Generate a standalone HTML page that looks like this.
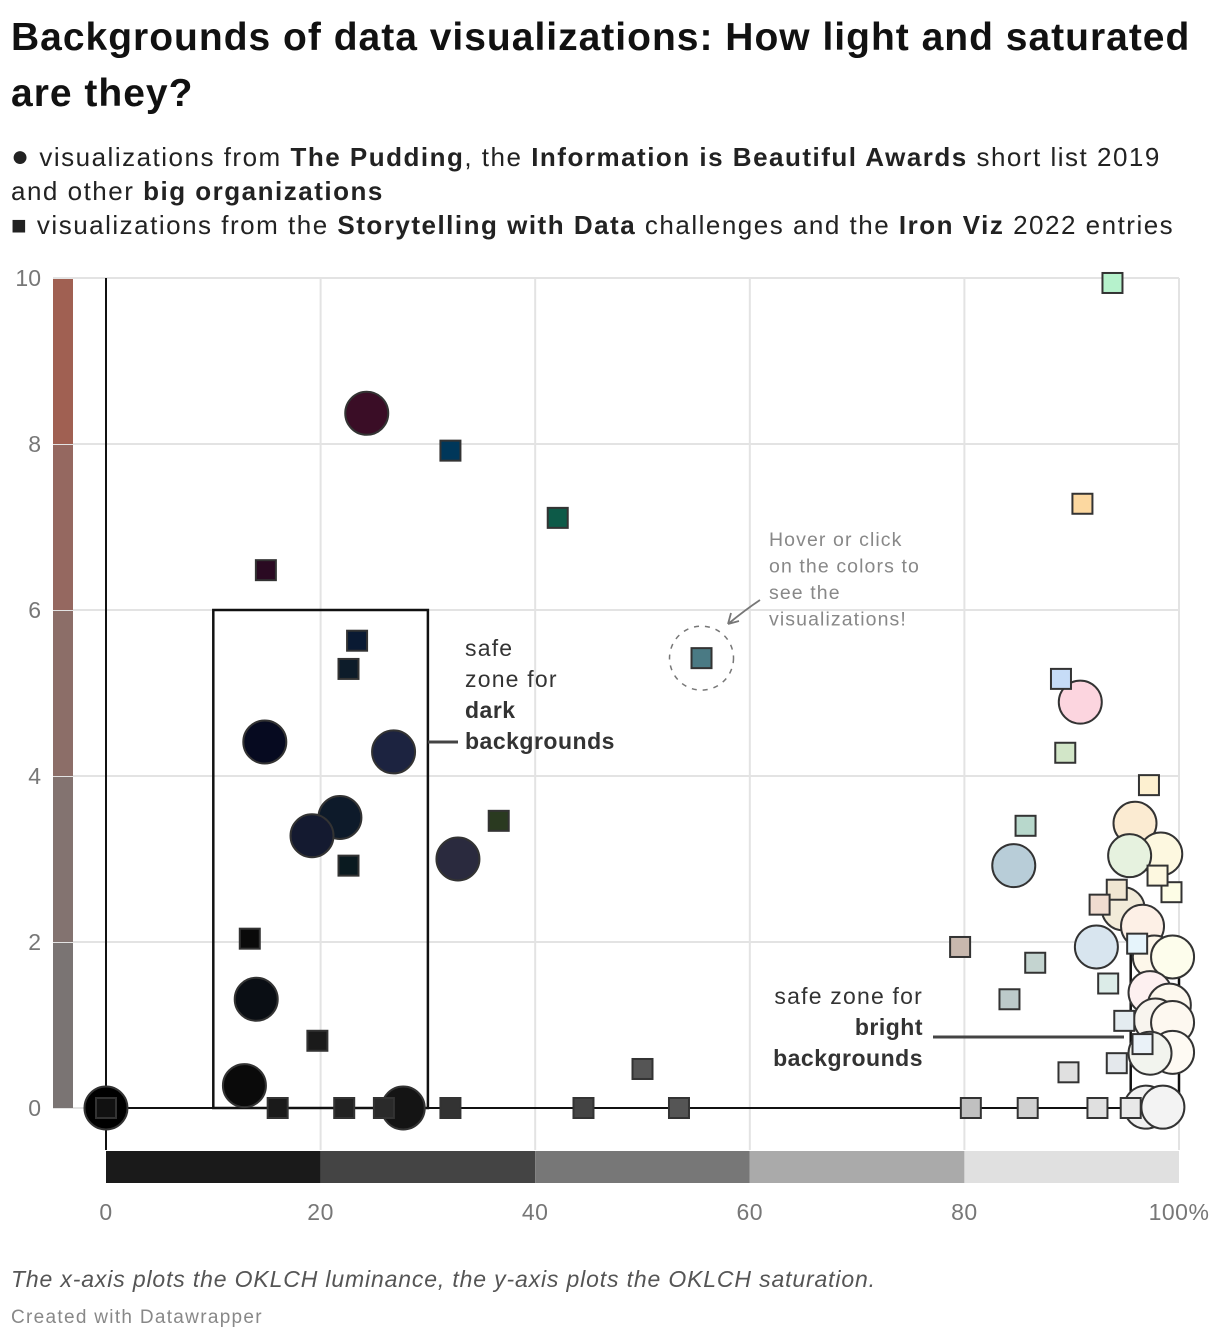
<!DOCTYPE html>
<html><head><meta charset="utf-8">
<style>
body{margin:0;background:#fff;font-family:"Liberation Sans",sans-serif;color:#1d1d1d;width:1220px;height:1342px;overflow:hidden;position:relative}
.t{position:absolute;left:11px;white-space:nowrap}
h1{position:absolute;left:11px;top:10px;margin:0;font-size:39px;line-height:56px;font-weight:bold;width:1195px;color:#111;letter-spacing:1px}
.sub{position:absolute;left:11px;top:140px;font-size:26px;line-height:34px;color:#222;letter-spacing:1.5px;white-space:nowrap}
svg{position:absolute;left:0;top:0}
</style></head><body>
<h1>Backgrounds of data visualizations: How light and saturated are they?</h1>
<div class="sub"><span style="font-size:30px">●</span> visualizations from <b>The Pudding</b>, the <b>Information is Beautiful Awards</b> short list 2019<br>and other <b>big organizations</b><br>■ visualizations from the <b>Storytelling with Data</b> challenges and the <b>Iron Viz</b> 2022 entries</div>
<svg id="c" width="1220" height="1342"></svg>
<div class="t" style="top:1266px;font-size:23px;font-style:italic;color:#555;letter-spacing:0.85px">The x-axis plots the OKLCH luminance, the y-axis plots the OKLCH saturation.</div>
<div class="t" style="top:1307px;font-size:19px;color:#888;letter-spacing:1.3px">Created with Datawrapper</div>
<script>
const xTicks=[0,20,40,60,80,100];
const yTicks=[0,2,4,6,8,10];
const circX=[24.3,14.8,26.8,21.8,19.2,32.8,14.0,12.9,0,27.7,90.8,84.6,95.9,98.3,95.4,94.8,96.6,92.3,97.7,99.4,97.3,99.1,97.8,99.4,99.4,97.3,96.9,98.5];
const circY=[8.37,4.41,4.29,3.5,3.28,3.0,1.31,0.27,0,0,4.89,2.92,3.43,3.06,3.04,2.4,2.19,1.94,1.82,1.82,1.39,1.24,1.06,1.03,0.67,0.66,0.01,0.01];
const circC=["#3a0d26","#060a20","#1c2340","#0d1a2a","#141a30","#2a2a3e","#0a0e14","#0a0a0a","#000000","#141414","#fcd5df","#b8cdd8","#fbebd2","#fdf8e0","#e6f2df","#f2ebd9","#fdf0e6","#d8e5ef","#fdf7ea","#fdfdec","#fdf0f0","#fdf8ee","#f8f4ee","#fdf8f0","#fefaf3","#f2f4ee","#f0f0f0","#f3f3f3"];
const sqX=[32.1,42.1,14.9,23.4,22.6,55.5,36.6,22.6,13.4,19.7,50.0,0,16.0,22.2,25.9,32.1,44.5,53.4,93.8,91.0,89.0,89.4,97.2,85.7,79.6,86.6,84.2,93.4,89.7,80.6,85.9,92.4,95.5,94.2,99.3,92.6,98.0,96.1,94.9,96.6,94.2];
const sqY=[7.92,7.11,6.48,5.63,5.29,5.42,3.46,2.92,2.04,0.81,0.47,0,0,0,0,0,0,0,9.94,7.28,5.17,4.28,3.89,3.40,1.94,1.75,1.31,1.50,0.43,0,0,0,0,2.63,2.60,2.45,2.80,1.98,1.05,0.77,0.54];
const sqC=["#00375a","#0d5a48","#2a0a22","#0a1a33","#0d1c2a","#4a7a84","#2a3a20","#0a1a20","#0a0a0a","#1a1a1a","#555555","#111111","#1a1a1a","#222222","#2a2a2a","#333333","#444444","#555555","#b6f2cc","#fcd8a0","#c6dcf7","#d2e6c8","#fdf0d0","#b8d8cc","#c8b8ae","#c4d4d0","#bccaca","#dcece8","#e0e0e0","#c0c0c0","#d0d0d0","#e0e0e0","#e8e8e8","#f0e6d2","#fdfde6","#f0dcd0","#fdf8e0","#e6f4fb","#e4ecf0","#eaf2f8","#e4e8ec"];
const ySegC=["#7a7473","#837370","#8c6e68","#956860","#a06052"];
const xSegC=["#1a1a1a","#444444","#777777","#aaaaaa","#e0e0e0"];
const X=v=>106+v*10.73, Y=v=>1108-v*83;
const s=document.getElementById('c'),NS="http://www.w3.org/2000/svg";
function E(t,a,p){const e=document.createElementNS(NS,t);for(const k in a)e.setAttribute(k,a[k]);(p||s).appendChild(e);return e;}
xTicks.forEach((t,i)=>{const g=E('line',{x1:X(t),x2:X(t),y1:278,y2:1150,stroke:'#e3e3e3','stroke-width':2});

const l=E('text',{x:X(t),y:1220,'text-anchor':'middle','font-size':23,fill:'#777','letter-spacing':0.5});l.textContent=t===100?'100%':t;

if(i<5){const r=E('rect',{x:X(t),y:1151,width:X(xTicks[i+1])-X(t),height:32,fill:xSegC[i]});
}});
yTicks.forEach((t,i)=>{const g=E('line',{x1:53,x2:1179,y1:Y(t),y2:Y(t),stroke:'#e3e3e3','stroke-width':2});

const l=E('text',{x:41,y:Y(t)+8,'text-anchor':'end','font-size':23,fill:'#777'});l.textContent=t;

if(i<5){const r=E('rect',{x:53,y:Y(yTicks[i+1]),width:20,height:Y(t)-Y(yTicks[i+1]),fill:ySegC[i]});
}});
E('line',{x1:X(0),x2:X(0),y1:278,y2:1150,stroke:'#111','stroke-width':2});
E('line',{x1:X(0),x2:X(100),y1:Y(0),y2:Y(0),stroke:'#111','stroke-width':2});
const z=E('rect',{x:X(10),y:Y(6),width:X(30)-X(10),height:Y(0)-Y(6),fill:'none',stroke:'#111','stroke-width':2.5});

E('line',{x1:X(30),x2:458,y1:742,y2:742,stroke:'#444','stroke-width':3});
const z2=E('rect',{x:X(95.5),y:940,width:X(100)-X(95.5),height:Y(0)-940,fill:'none',stroke:'#111','stroke-width':2.5});

E('line',{x1:933,x2:1124,y1:1037,y2:1037,stroke:'#444','stroke-width':3});
E('circle',{cx:X(55.5),cy:Y(5.42),r:32,fill:'none',stroke:'#777','stroke-width':1.5,'stroke-dasharray':'5 6'});
E('path',{d:'M760 600 Q745 610 728 624 M728 624 l3 -11 M728 624 l11 -3',fill:'none',stroke:'#777','stroke-width':1.8});
function txt(lines,x,y,lh,fs,fill,anchor,name,ls){const t=E('text',{x:x,y:y,'font-size':fs,fill:fill,'text-anchor':anchor});

lines.forEach((l,i)=>{const ts=E('tspan',{x:x,dy:i?lh:0},t);ts.setAttribute('letter-spacing',l[1]?0.5:ls);if(l[1])ts.setAttribute('font-weight','bold');ts.textContent=l[0];});}
txt([["safe"],["zone for"],["dark",1],["backgrounds",1]],465,656,31,23,'#333','start','dark-zone-label',1.2);
txt([["safe zone for"],["bright",1],["backgrounds",1]],923,1004,31,23,'#333','end','bright-zone-label',1.2);
txt([["Hover or click"],["on the colors to"],["see the"],["visualizations!"]],769,546,26.5,19.5,'#888','start','hover-hint',1.1);
circX.forEach((v,i)=>{const c=E('circle',{cx:X(v),cy:Y(circY[i]),r:21.5,fill:circC[i],stroke:'#333','stroke-width':2});
});
sqX.forEach((v,i)=>{const r=E('rect',{x:X(v)-10,y:Y(sqY[i])-10,width:20,height:20,fill:sqC[i],stroke:'#333','stroke-width':2});
});
</script>
</body></html>
